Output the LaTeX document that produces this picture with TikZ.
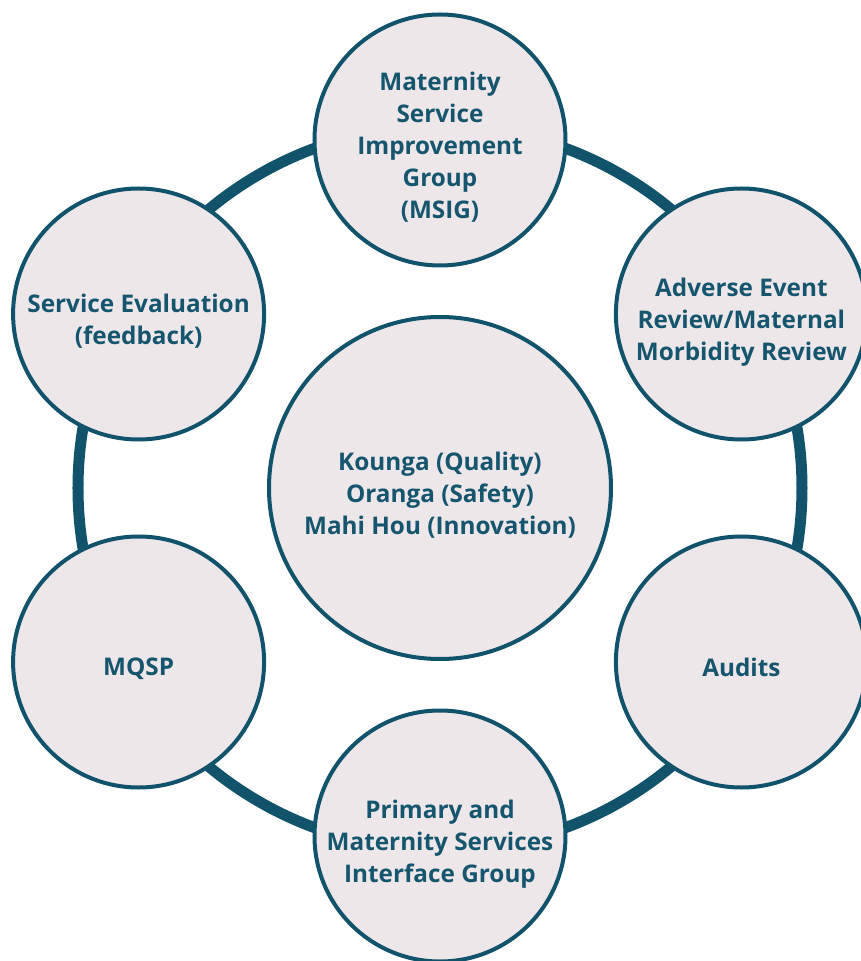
\documentclass[tikz,border=0pt]{standalone}
\usepackage{fontspec}
\setmainfont{Open Sans}
\usepackage{tikz}
\usetikzlibrary{positioning}
\definecolor{tealline}{HTML}{10536B}
\definecolor{tealtext}{HTML}{15566E}
\definecolor{rosefill}{HTML}{EDE7EA}

\begin{document}
\begin{tikzpicture}[x=1pt,y=1pt]
	 \tikzstyle{hub}=[circle,draw=tealline,line width=4pt,fill=rosefill,minimum size=342pt,inner sep=0pt]
	 \tikzstyle{vertex}=[hub,minimum size=251pt]
	 \tikzstyle{caption}=[text=tealtext,align=center,inner sep=0pt,text depth=0pt,yshift=-5pt,font=\fontsize{24.3}{32}\selectfont\bfseries]
	 \tikzstyle{ring}=[draw=tealline,line width=11pt]
	 \useasboundingbox (-440,-473) rectangle (420,488);

	 \node[hub,label={[caption]center:Kounga (Quality)\\Oranga (Safety)\\Mahi Hou (Innovation)}] (hub) at (0,0) {};
	 \draw[ring] (hub.center) circle (362pt);

	 \node[vertex,label={[caption]center:Maternity\\Service\\Improvement\\Group\\(MSIG)}] (msig) at (0,348) {};
	 \node[vertex,label={[caption]center:Adverse Event\\Review/Maternal\\Morbidity Review}] (review) at (301.4,174) {};
	 \node[vertex,label={[caption]center:Audits}] (audits) at (301.4,-174) {};
	 \node[vertex,label={[caption]center:Primary and\\Maternity Services\\Interface Group}] (interface) at (0,-348) {};
	 \node[vertex,label={[caption]center:MQSP}] (mqsp) at (-301.4,-174) {};
	 \node[vertex,label={[caption]center:Service Evaluation\\(feedback)}] (evaluation) at (-301.4,174) {};
\end{tikzpicture}
\end{document}
